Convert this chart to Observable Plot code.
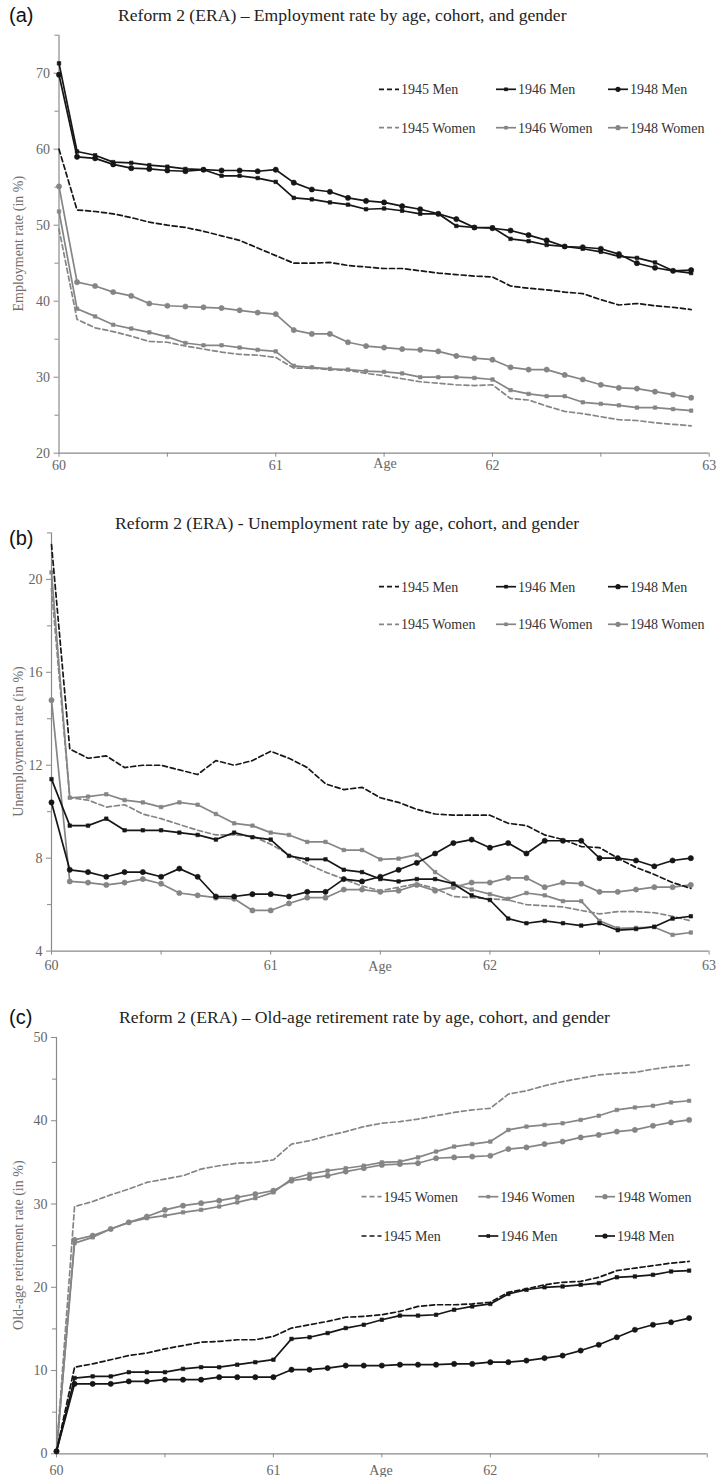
<!DOCTYPE html>
<html><head><meta charset="utf-8">
<script src="https://cdn.jsdelivr.net/npm/d3@7"></script>
<script src="https://cdn.jsdelivr.net/npm/@observablehq/plot@0.6"></script>
<style>
body{margin:0;background:#fff;}
#chart{width:724px;}
#chart svg{display:block;}
</style></head><body><div id="chart"></div>
<script>
// months since age 60 (one point per month)
const monthsFrom60 = [0,1,2,3,4,5,6,7,8,9,10,11,12,13,14,15,16,17,18,19,20,21,22,23,24,25,26,27,28,29,30,31,32,33,34,35];
const seriesNames = ["1945 Men","1946 Men","1948 Men","1945 Women","1946 Women","1948 Women"];

// Panel (a) Employment rate
const emp1945M = [60.0,52.0,51.8,51.5,51.0,50.4,50.0,49.7,49.2,48.6,48.0,47.0,46.0,45.0,45.0,45.1,44.7,44.5,44.3,44.3,44.0,43.7,43.5,43.3,43.2,42.0,41.7,41.5,41.2,41.0,40.2,39.5,39.7,39.4,39.2,38.9];
const emp1946M = [71.3,59.7,59.2,58.3,58.2,57.9,57.7,57.4,57.3,56.5,56.5,56.2,55.7,53.6,53.4,53.0,52.7,52.1,52.2,51.9,51.5,51.5,49.9,49.7,49.7,48.2,47.9,47.4,47.2,46.9,46.5,45.9,45.7,45.1,44.0,43.7];
const emp1948M = [69.8,59.0,58.8,58.0,57.5,57.4,57.2,57.1,57.3,57.2,57.2,57.1,57.3,55.6,54.7,54.4,53.6,53.2,53.0,52.5,52.1,51.5,50.8,49.7,49.6,49.3,48.7,48.0,47.2,47.1,46.9,46.2,45.0,44.4,44.0,44.1];
const emp1945W = [49.5,37.6,36.5,36.0,35.4,34.7,34.6,34.1,33.7,33.3,33.0,32.9,32.6,31.2,31.2,31.0,30.9,30.5,30.2,29.8,29.4,29.2,29.0,28.9,29.0,27.2,27.0,26.2,25.5,25.2,24.8,24.4,24.3,24.0,23.8,23.6];
const emp1946W = [51.8,39.0,38.0,36.9,36.4,35.9,35.3,34.5,34.2,34.2,33.9,33.6,33.4,31.5,31.3,31.1,31.0,30.8,30.7,30.5,30.0,30.0,30.0,29.9,29.7,28.3,27.8,27.5,27.5,26.7,26.5,26.3,26.0,26.0,25.8,25.6];
const emp1948W = [55.1,42.5,42.0,41.2,40.7,39.7,39.4,39.3,39.2,39.1,38.8,38.5,38.3,36.2,35.7,35.7,34.6,34.1,33.9,33.7,33.6,33.4,32.8,32.5,32.3,31.3,31.0,31.0,30.3,29.7,29.0,28.6,28.5,28.1,27.7,27.3];

// Panel (b) Unemployment rate
const un1945M = [21.5,12.7,12.3,12.4,11.9,12.0,12.0,11.8,11.6,12.2,12.0,12.2,12.6,12.3,11.9,11.2,10.95,11.05,10.6,10.4,10.1,9.9,9.85,9.85,9.85,9.5,9.4,9.0,8.8,8.5,8.45,8.0,7.6,7.3,6.95,6.7];
const un1946M = [11.4,9.4,9.4,9.7,9.2,9.2,9.2,9.1,9.0,8.8,9.1,8.9,8.8,8.1,7.95,7.95,7.5,7.4,7.1,7.0,7.1,7.1,6.9,6.4,6.2,5.4,5.2,5.3,5.2,5.1,5.2,4.9,4.95,5.05,5.4,5.5];
const un1948M = [10.4,7.5,7.4,7.2,7.4,7.4,7.2,7.55,7.2,6.35,6.35,6.45,6.45,6.35,6.55,6.55,7.1,7.0,7.2,7.5,7.8,8.2,8.65,8.8,8.45,8.65,8.2,8.75,8.75,8.75,8.0,8.0,7.9,7.65,7.9,8.0];
const un1945W = [19.6,10.6,10.5,10.2,10.3,9.9,9.7,9.45,9.2,9.0,9.0,8.95,8.6,8.15,7.75,7.4,7.1,6.8,6.6,6.75,6.9,6.7,6.35,6.3,6.25,6.2,6.0,5.95,5.9,5.75,5.6,5.7,5.7,5.65,5.5,5.3];
const un1946W = [20.3,10.6,10.65,10.75,10.5,10.4,10.2,10.4,10.3,9.9,9.5,9.4,9.1,9.0,8.7,8.7,8.35,8.35,7.95,7.98,8.15,7.4,6.9,6.65,6.45,6.25,6.5,6.4,6.15,6.15,5.3,4.98,5.0,5.03,4.7,4.8];
const un1948W = [14.8,7.0,6.95,6.85,6.95,7.1,6.9,6.5,6.4,6.3,6.25,5.75,5.75,6.05,6.3,6.3,6.65,6.65,6.55,6.6,6.85,6.6,6.75,6.95,6.95,7.15,7.15,6.75,6.95,6.9,6.55,6.55,6.65,6.75,6.75,6.85];

// Panel (c) Old-age retirement rate
const ret1945W = [0.3,29.7,30.3,31.1,31.8,32.6,33.0,33.4,34.2,34.6,34.9,35.0,35.3,37.2,37.6,38.2,38.7,39.3,39.7,39.9,40.2,40.6,41.0,41.3,41.5,43.2,43.6,44.2,44.7,45.1,45.5,45.7,45.8,46.2,46.5,46.7];
const ret1946W = [0.3,25.3,26.0,27.0,27.8,28.3,28.6,29.0,29.3,29.7,30.2,30.7,31.4,33.0,33.6,34.0,34.3,34.6,35.0,35.1,35.6,36.3,36.9,37.2,37.5,38.9,39.3,39.5,39.7,40.1,40.6,41.3,41.6,41.8,42.2,42.4];
const ret1948W = [0.3,25.7,26.2,27.0,27.8,28.5,29.3,29.8,30.1,30.4,30.8,31.2,31.6,32.8,33.1,33.4,33.9,34.3,34.7,34.8,34.9,35.5,35.6,35.7,35.8,36.6,36.8,37.2,37.5,38.0,38.3,38.7,38.9,39.4,39.8,40.1];
const ret1945M = [0.3,10.4,10.8,11.3,11.8,12.1,12.6,13.0,13.4,13.5,13.7,13.7,14.1,15.1,15.5,15.9,16.4,16.5,16.7,17.1,17.7,17.9,17.9,18.0,18.2,19.4,19.8,20.3,20.6,20.7,21.2,22.0,22.3,22.6,22.9,23.1];
const ret1946M = [0.3,9.1,9.3,9.3,9.8,9.8,9.8,10.2,10.4,10.4,10.7,11.0,11.3,13.8,14.0,14.5,15.1,15.5,16.1,16.6,16.6,16.7,17.3,17.7,18.0,19.2,19.7,20.0,20.1,20.3,20.5,21.2,21.3,21.5,21.9,22.0];
const ret1948M = [0.3,8.4,8.4,8.4,8.7,8.7,8.9,8.9,8.9,9.2,9.2,9.2,9.2,10.1,10.1,10.3,10.6,10.6,10.6,10.7,10.7,10.7,10.8,10.8,11.0,11.0,11.2,11.5,11.8,12.4,13.1,14.0,14.9,15.5,15.8,16.3];

// axis ticks
const xTicks = [60, 60.5, 61, 61.5, 62, 62.5, 63];
const yTicksA = [20,30,40,50,60,70], yMinorA = [25,35,45,55,65,75];
const yTicksB = [4,8,12,16,20], yMinorB = [6,10,14,18,22];
const yTicksC = [0,10,20,30,40,50], yMinorC = [5,15,25,35,45];

const BLACK = "#161616", GRAY = "#858585", AXIS = "#8a8a8a", TICKTXT = "#666";
const SERIF = "'Liberation Serif', 'Times New Roman', serif";
const style = {
  "1945 Men":   {color: BLACK, dash: "5,3", marker: null},
  "1946 Men":   {color: BLACK, dash: null, marker: "square"},
  "1948 Men":   {color: BLACK, dash: null, marker: "circle"},
  "1945 Women": {color: GRAY, dash: "5,3", marker: null},
  "1946 Women": {color: GRAY, dash: null, marker: "square"},
  "1948 Women": {color: GRAY, dash: null, marker: "circle"}
};

function toRows(arr, name) {
  return arr.map((v, i) => ({age: 60 + monthsFrom60[i] / 12, v, name}));
}

function seriesMarks(name, arr) {
  const s = style[name];
  const data = toRows(arr, name);
  const m = [Plot.line(data, {x: "age", y: "v", stroke: s.color, strokeWidth: 1.7, strokeDasharray: s.dash || undefined})];
  if (s.marker) m.push(Plot.dot(data, {x: "age", y: "v", symbol: s.marker, r: s.marker === "circle" ? 2.6 : 2.0, fill: s.color, stroke: s.color, strokeWidth: 0.6}));
  return m;
}

function addText(g, x, y, txt, opts) {
  return g.append("text").attr("x", x).attr("y", y).attr("dy", "0.35em")
    .attr("text-anchor", opts.anchor || "start")
    .attr("font-family", opts.family || SERIF).attr("font-size", opts.size || 14)
    .attr("fill", opts.fill || "#333").text(txt);
}

function panel(cfg) {
  const marks = [
    Plot.ruleX([60], {y1: cfg.y[0], y2: cfg.y[1], stroke: AXIS, strokeWidth: 1.2}),
    Plot.ruleY([cfg.y[0]], {x1: 60, x2: 63, stroke: AXIS, strokeWidth: 1.2}),
    Plot.axisY({ticks: cfg.yTicks, tickSize: 5, tickPadding: 4, fontSize: 14, fill: TICKTXT, stroke: AXIS, label: null, tickFormat: d => String(d)}),
    Plot.axisY({ticks: cfg.yMinor, tickSize: 4, fill: TICKTXT, stroke: AXIS, label: null, tickFormat: () => ""}),
    Plot.axisX({ticks: xTicks, tickSize: 4, tickPadding: cfg.xPad, fontSize: 14, fill: TICKTXT, stroke: AXIS, label: null,
      tickFormat: d => (Number.isInteger(d) && cfg.xLabels.includes(d)) ? String(d) : ""})
  ];
  for (const [name, arr] of cfg.series) marks.push(...seriesMarks(name, arr));
  const svg = Plot.plot({
    width: 724, height: cfg.height,
    marginLeft: cfg.ml, marginRight: cfg.mr, marginTop: cfg.mt, marginBottom: cfg.mb,
    style: {fontFamily: SERIF, background: "#fff", color: TICKTXT},
    x: {domain: [60, 63], axis: null},
    y: {domain: cfg.y, axis: null},
    marks
  });
  const g = d3.select(svg).append("g").attr("text-anchor", "start");
  addText(g, 9, cfg.letterY, cfg.letter, {family: "'Liberation Sans', Arial, sans-serif", size: 20, fill: "#111"});
  addText(g, cfg.titleX, cfg.titleY, cfg.title, {size: 17.6, fill: "#222"});
  const midY = (cfg.mt + (cfg.height - cfg.mb)) / 2;
  g.append("text").attr("transform", `translate(18.5,${midY}) rotate(-90)`).attr("text-anchor", "middle").attr("dy", "0.35em")
    .attr("font-family", SERIF).attr("font-size", 14).attr("fill", "#707070").text(cfg.yLabel);
  addText(g, cfg.ageX, cfg.height - cfg.mb + cfg.ageDy, "Age", {anchor: "middle", size: 14, fill: TICKTXT});
  cfg.legend.forEach((row, ri) => {
    row.forEach((name, ci) => {
      const s = style[name];
      const x0 = cfg.legX[ci], y0 = cfg.legY[ri];
      g.append("line").attr("x1", x0).attr("x2", x0 + 20).attr("y1", y0).attr("y2", y0)
        .attr("stroke", s.color).attr("stroke-width", 1.7).attr("stroke-dasharray", s.dash || null);
      if (s.marker === "circle") g.append("circle").attr("cx", x0 + 10).attr("cy", y0).attr("r", 2.6).attr("fill", s.color);
      if (s.marker === "square") g.append("rect").attr("x", x0 + 8.2).attr("y", y0 - 1.8).attr("width", 3.6).attr("height", 3.6).attr("fill", s.color);
      addText(g, x0 + 22, y0, name, {size: 14, fill: "#333"});
    });
  });
  return svg;
}

const chart = document.getElementById("chart");

chart.appendChild(panel({
  letter: "(a)", letterY: 15, title: "Reform 2 (ERA) \u2013 Employment rate by age, cohort, and gender", titleX: 118, titleY: 15,
  height: 480, ml: 58.5, mr: 15.3, mt: 34.7, mb: 27.3, y: [20, 75], yTicks: yTicksA, yMinor: yMinorA,
  xPad: 3, xLabels: [60, 61, 62, 63], ageX: 385, ageDy: 10,
  yLabel: "Employment rate (in %)",
  series: [["1945 Women", emp1945W], ["1946 Women", emp1946W], ["1948 Women", emp1948W], ["1945 Men", emp1945M], ["1946 Men", emp1946M], ["1948 Men", emp1948M]],
  legend: [["1945 Men", "1946 Men", "1948 Men"], ["1945 Women", "1946 Women", "1948 Women"]],
  legX: [379, 496, 608], legY: [89.3, 127.7]
}));

chart.appendChild(panel({
  letter: "(b)", letterY: 538.3 - 480, title: "Reform 2 (ERA) - Unemployment rate by age, cohort, and gender", titleX: 115, titleY: 522.7 - 480,
  height: 505, ml: 51, mr: 15.4, mt: 52.4, mb: 34.4, y: [4, 22], yTicks: yTicksB, yMinor: yMinorB,
  xPad: 5, xLabels: [60, 61, 62, 63], ageX: 380, ageDy: 15,
  yLabel: "Unemployment rate (in %)",
  series: [["1945 Women", un1945W], ["1946 Women", un1946W], ["1948 Women", un1948W], ["1945 Men", un1945M], ["1946 Men", un1946M], ["1948 Men", un1948M]],
  legend: [["1945 Men", "1946 Men", "1948 Men"], ["1945 Women", "1946 Women", "1948 Women"]],
  legX: [379, 496, 608], legY: [586.7 - 480, 624.3 - 480]
}));

chart.appendChild(panel({
  letter: "(c)", letterY: 1016.7 - 985, title: "Reform 2 (ERA) \u2013 Old-age retirement rate by age, cohort, and gender", titleX: 119, titleY: 1016.7 - 985,
  height: 492, ml: 56, mr: 17.3, mt: 52, mb: 23.7, y: [0, 50], yTicks: yTicksC, yMinor: yMinorC,
  xPad: 7, xLabels: [60, 61, 62], ageX: 381, ageDy: 16.7,
  yLabel: "Old-age retirement rate (in %)",
  series: [["1945 Women", ret1945W], ["1946 Women", ret1946W], ["1948 Women", ret1948W], ["1945 Men", ret1945M], ["1946 Men", ret1946M], ["1948 Men", ret1948M]],
  legend: [["1945 Women", "1946 Women", "1948 Women"], ["1945 Men", "1946 Men", "1948 Men"]],
  legX: [361.5, 478.3, 595], legY: [1196.7 - 985, 1236 - 985]
}));
</script>
</body></html>
